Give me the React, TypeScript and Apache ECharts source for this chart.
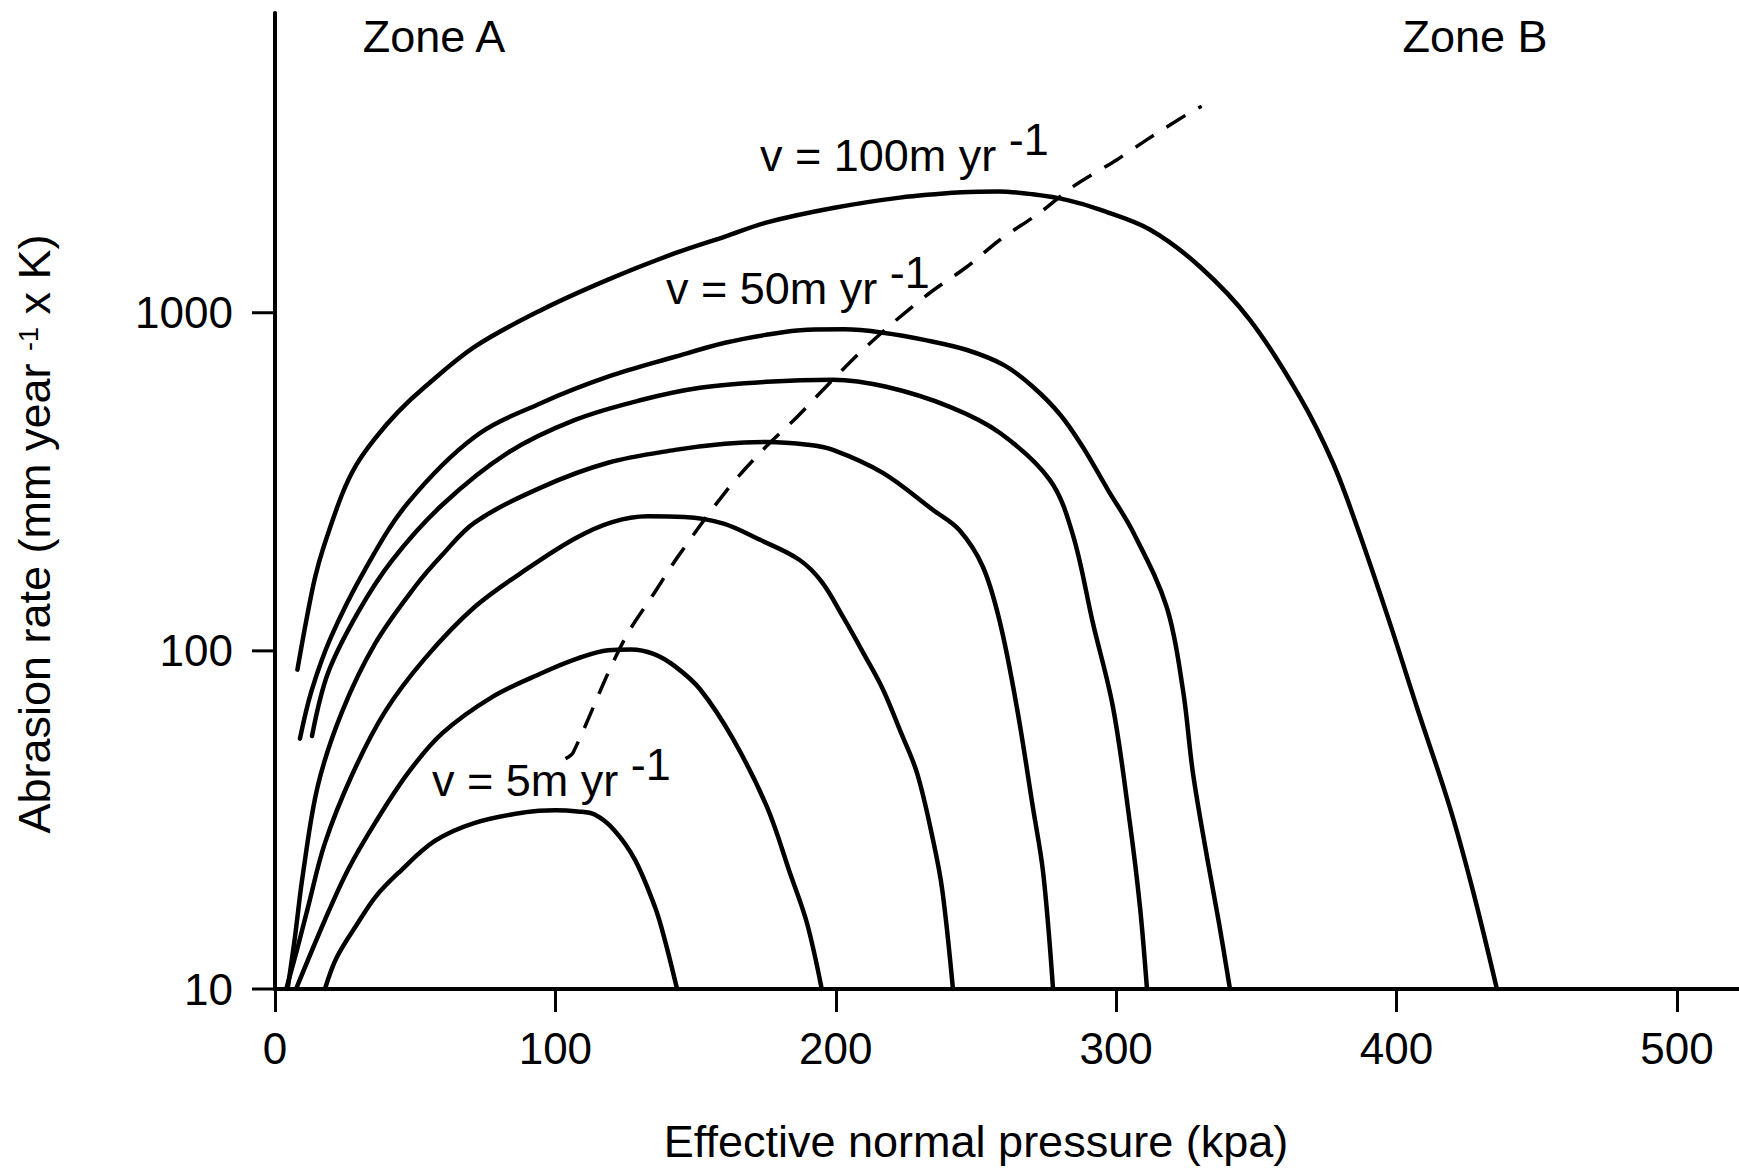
import React, { useEffect, useRef } from "react";
import * as echarts from "echarts";

type Pt = [number, number];

// Axis values
const xTickValues = [0, 100, 200, 300, 400, 500];
const yTickValues = [10, 100, 1000];
const xMin = 0;
const xMax = 530;
const yMin = 10;
const yMax = 7700;

// Curves: [effective normal pressure (kPa), abrasion rate]
const curveV5: Pt[] = [
  [17.8, 10], [22, 12.4], [29.6, 15.7], [36, 18.8], [43.9, 22], [57, 27.4], [71.3, 31],
  [89, 33.3], [100, 33.8], [108, 33.5], [114, 32.8], [121, 29.5], [128.4, 24.1],
  [135.5, 17.5], [139, 14], [143.4, 10],
];
const curveV10: Pt[] = [
  [7.5, 10], [17.8, 16], [26, 22.5], [35.7, 31], [47.4, 43.5], [59.6, 57], [77.4, 73],
  [95.2, 86], [108, 95], [118.8, 100.5], [127, 101], [135, 98], [142.7, 90], [151.6, 77],
  [163.3, 55], [175.5, 34.5], [183.7, 22], [189.7, 15.7], [195, 10],
];
const curveV20: Pt[] = [
  [4, 10], [8, 13.2], [11.8, 17.5], [17.8, 27], [27.5, 43], [39.2, 66], [53.5, 95],
  [71.3, 135], [90, 175], [107, 215], [120, 240], [133, 250], [146, 249], [160, 238],
  [173, 213], [187, 186], [195, 160], [202.6, 126], [210, 98], [216.8, 77], [223, 58],
  [229, 43.5], [234.7, 27.6], [238, 19.6], [241.8, 10],
];
const curveV30: Pt[] = [
  [4.5, 10], [7, 14], [10, 22], [15.3, 40], [23.9, 66], [35.7, 105], [50, 155], [59.6, 192],
  [71.3, 240], [95.2, 305], [118.8, 360], [142.7, 393], [160.5, 410], [175.5, 415],
  [190, 407], [199, 393], [216.8, 336], [234.7, 261], [244, 228], [252.5, 177],
  [258.6, 121], [264.6, 68], [270.3, 34.5], [274, 22], [277.5, 10],
];
const curveV40: Pt[] = [
  [13.2, 56], [18.9, 86], [29.6, 130], [41.7, 185], [59.6, 270], [83, 385], [107, 482],
  [131, 553], [151.6, 600], [175.5, 625], [199, 634], [218, 604], [240.7, 527],
  [258.6, 441], [276.4, 320], [284.6, 220], [291.7, 121], [298.9, 68], [304.9, 31],
  [308.5, 17.5], [311, 10],
];
const curveV50: Pt[] = [
  [8.9, 55], [13, 76], [20, 110], [32.1, 174], [47.4, 274], [71.3, 430], [95.2, 542],
  [118.8, 647], [142.7, 741], [160.5, 815], [175, 860], [190, 890], [203, 893],
  [216.8, 873], [232, 830], [246.8, 776], [260, 700], [270.3, 604], [280, 500],
  [288, 402], [297, 300], [306, 225], [318, 135], [323.8, 77], [327.4, 43.5],
  [332.4, 24.6], [336.5, 16], [340.6, 10],
];
const curveV100: Pt[] = [
  [8, 88], [11.4, 126], [14.3, 165], [17.1, 200], [23.9, 290], [29, 355], [35.7, 425],
  [44, 510], [53.5, 604], [71.3, 794], [95.2, 1021], [118.8, 1253], [142.7, 1500],
  [160.5, 1680], [175.5, 1850], [199, 2040], [222.9, 2190], [245, 2270], [258, 2285],
  [270.3, 2240], [283, 2150], [294.2, 2018], [312, 1763], [329.9, 1368], [347.7, 953],
  [365.5, 564], [377.3, 360], [386, 232], [397.6, 121], [407.3, 68], [419, 34.5],
  [427.2, 19.6], [435.8, 10],
];
// Dashed boundary between Zone A and Zone B
const zoneBoundary: Pt[] = [
  [103.6, 48], [106.3, 50], [118.8, 86], [125.9, 113], [134.5, 145], [143.7, 190],
  [161.2, 299], [174, 393], [186.2, 492], [195.4, 591], [208.6, 762], [220.4, 933],
  [233.6, 1146], [246.8, 1368], [258.6, 1644], [272.8, 1977], [284.6, 2360],
  [300.3, 2836], [311, 3251], [326.3, 3908], [330.5, 4080],
];

const curveNames = [
  "v = 5m yr-1", "v = 10m yr-1", "v = 20m yr-1", "v = 30m yr-1",
  "v = 40m yr-1", "v = 50m yr-1", "v = 100m yr-1",
];
const zoneNames = ["Zone A", "Zone B"];
const curveLabelTexts = ["v = 100m yr {s|-1}", "v = 50m yr {s|-1}", "v = 5m yr {s|-1}"];
const xAxisTitle = "Effective normal pressure (kpa)";
const yAxisTitle = "Abrasion rate (mm year {sup|-1} x K)";

const FONT = "'Liberation Sans', Arial, Helvetica, sans-serif";
const FS = 45;
const TICK_FS = 44;

export default function App() {
  const ref = useRef<HTMLDivElement | null>(null);

  useEffect(() => {
    if (!ref.current) return;
    const chart = echarts.init(ref.current, null, { renderer: "svg" });

    const curves = [curveV5, curveV10, curveV20, curveV30, curveV40, curveV50, curveV100];
    const series: any[] = curves.map((data, i) => ({
      name: curveNames[i],
      type: "line",
      data,
      smooth: 0.35,
      symbol: "none",
      showSymbol: false,
      silent: true,
      z: 3,
      lineStyle: { color: "#000", width: 4.5, cap: "round", join: "round" },
    }));
    series.push({
      name: "Zone boundary",
      type: "line",
      data: zoneBoundary,
      smooth: 0.3,
      symbol: "none",
      showSymbol: false,
      silent: true,
      z: 2,
      lineStyle: { color: "#000", width: 3.5, type: [22, 15] },
    });

    const matchTick = (list: number[], v: number) => {
      const m = list.find((t) => Math.abs(t - v) <= Math.abs(t) * 1e-6 + 1e-9);
      return m === undefined ? "" : String(m);
    };

    chart.setOption({
      animation: false,
      backgroundColor: "#fff",
      grid: {
        left: 275,
        top: 13,
        width: 1486,
        height: 976,
        containLabel: false,
        outerBoundsMode: "none",
      },
      xAxis: {
        type: "value",
        min: xMin,
        max: xMax,
        interval: 100,
        name: xAxisTitle,
        nameLocation: "middle",
        nameGap: 130,
        nameTextStyle: {
          fontFamily: FONT,
          fontSize: FS,
          color: "#000",
          padding: [0, 84, 0, 0],
        },
        axisLine: { show: true, onZero: false, lineStyle: { color: "#000", width: 4 } },
        axisTick: { show: true, length: 23, inside: false, lineStyle: { color: "#000", width: 3 } },
        axisLabel: {
          show: true,
          margin: 37,
          fontFamily: FONT,
          fontSize: TICK_FS,
          color: "#000",
          showMaxLabel: false,
          formatter: (v: number) => matchTick(xTickValues, v),
        },
        splitLine: { show: false },
      },
      yAxis: {
        type: "log",
        logBase: 10,
        min: yMin,
        max: yMax,
        name: yAxisTitle,
        nameLocation: "middle",
        nameGap: 218,
        nameRotate: 90,
        nameTextStyle: {
          fontFamily: FONT,
          fontSize: FS,
          color: "#000",
          padding: [0, 66, 0, 0],
          rich: {
            sup: { fontFamily: FONT, fontSize: 27, color: "#000", padding: [0, 0, 12, 0] },
          },
        },
        axisLine: { show: true, onZero: false, lineStyle: { color: "#000", width: 4 } },
        axisTick: { show: false },
        minorTick: { show: false },
        axisLabel: {
          show: true,
          margin: 42,
          fontFamily: FONT,
          fontSize: TICK_FS,
          color: "#000",
          showMaxLabel: false,
          formatter: (v: number) => matchTick(yTickValues, v),
        },
        splitLine: { show: false },
        minorSplitLine: { show: false },
      },
      series,
    });

    const x0 = chart.convertToPixel({ xAxisIndex: 0 }, xMin) as number;
    const yTickLines = yTickValues.map((v) => {
      const py = chart.convertToPixel({ yAxisIndex: 0 }, v) as number;
      return {
        type: "line",
        silent: true,
        z: 5,
        shape: { x1: x0 - 23, y1: py, x2: x0, y2: py },
        style: { stroke: "#000", lineWidth: 3 },
      };
    });

    const textEl = (text: string, x: number, y: number, align: string) => ({
      type: "text",
      x,
      y,
      silent: true,
      z: 5,
      style: {
        text,
        font: `${FS}px ${FONT}`,
        fontSize: FS,
        fontFamily: FONT,
        fill: "#000",
        textAlign: align,
        textVerticalAlign: "middle",
        align,
        verticalAlign: "middle",
        rich: {
          s: { fontSize: FS, fontFamily: FONT, fill: "#000", padding: [0, 0, 32, 0] },
        },
      },
    });

    chart.setOption({
      graphic: [
        ...yTickLines,
        textEl(zoneNames[0], 434, 36, "center"),
        textEl(zoneNames[1], 1475, 36, "center"),
        textEl(curveLabelTexts[0], 760, 155, "left"),
        textEl(curveLabelTexts[1], 666, 288, "left"),
        textEl(curveLabelTexts[2], 432, 780, "left"),
      ],
    });

    return () => {
      chart.dispose();
    };
  }, []);

  return (
    <div
      ref={ref}
      style={{ position: "absolute", left: 0, top: 0, width: 1739, height: 1169, background: "#fff" }}
    />
  );
}
